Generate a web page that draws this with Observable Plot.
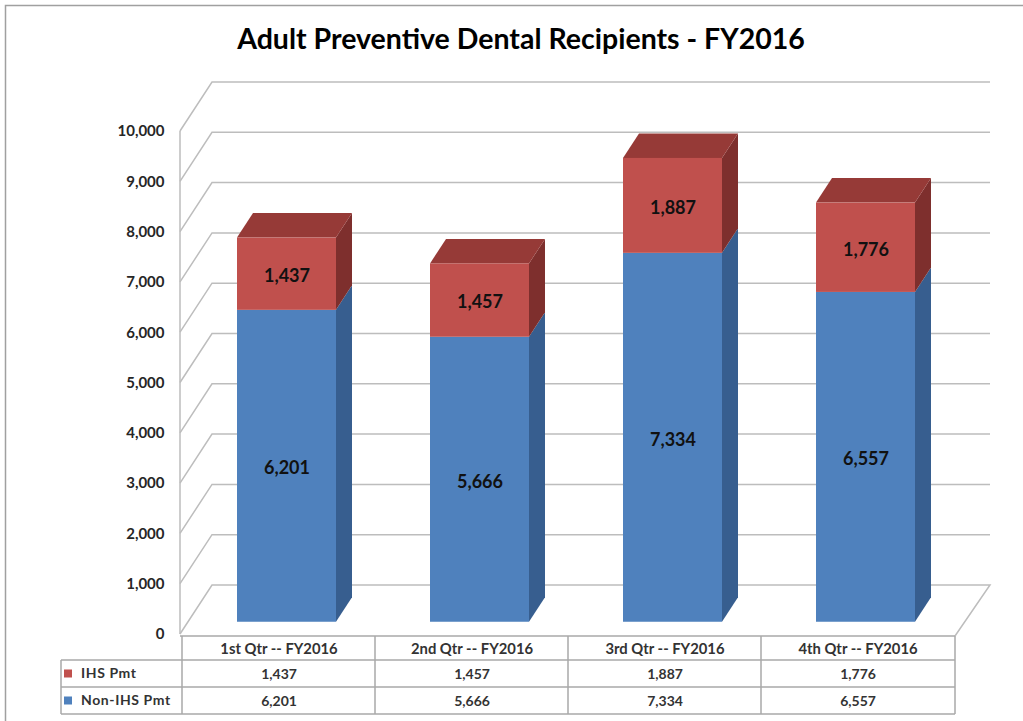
<!DOCTYPE html>
<html><head><meta charset="utf-8">
<script src="https://cdn.jsdelivr.net/npm/d3@7"></script>
<script src="https://cdn.jsdelivr.net/npm/@observablehq/plot@0.6"></script>
<style>body{margin:0;background:#fff} svg{display:block}</style>
</head><body><div id="chart"></div>
<script>
const title = "Adult Preventive Dental Recipients - FY2016";
const quarters = ["1st Qtr -- FY2016", "2nd Qtr -- FY2016", "3rd Qtr -- FY2016", "4th Qtr -- FY2016"];
const ihsPmt = [1437, 1457, 1887, 1776];
const nonIhsPmt = [6201, 5666, 7334, 6557];
const seriesNames = ["Non-IHS Pmt", "IHS Pmt"];
const seriesColors = ["#4F81BD", "#C0504D"];
const yTicks = [0, 1000, 2000, 3000, 4000, 5000, 6000, 7000, 8000, 9000, 10000];
const tableRows = ["IHS Pmt", "Non-IHS Pmt"];

const rows = [
  ...quarters.map((q, i) => ({quarter: q, series: "Non-IHS Pmt", value: nonIhsPmt[i]})),
  ...quarters.map((q, i) => ({quarter: q, series: "IHS Pmt", value: ihsPmt[i]}))
];
const fmt = d3.format(",");

// 3D geometry (pixels)
const DX = 32, DY = -49;             // wall depth
const FX = DX * 0.25, FY = DY * 0.25; // bar front plane offset
const BX = DX * 0.5, BY = DY * 0.5;   // bar depth
const INSET = 47;
const grid = "#BDBDBD";
const tableLine = "#A8A8A8";

function walls(index, {x, y}, values, dims) {
  const g = d3.create("svg:g");
  g.append("rect").attr("x", 5.5).attr("y", 5.5).attr("width", 1200).attr("height", 900)
    .attr("fill", "none").attr("stroke", "#A0A0A0").attr("stroke-width", 1.5);
  const x0 = dims.marginLeft, x1 = dims.width - dims.marginRight;
  const backRight = x1 + DX + 3;
  g.append("line").attr("x1", x0).attr("x2", x0).attr("y1", y(10000)).attr("y2", y(0))
    .attr("stroke", grid).attr("stroke-width", 1.5);
  for (const t of yTicks) {
    const yy = y(t);
    g.append("path").attr("fill", "none").attr("stroke", grid).attr("stroke-width", 1.5)
      .attr("d", `M${x0},${yy}L${x0 + DX},${yy + DY}L${backRight},${yy + DY}` + (t === 0 ? `L${x1},${yy + 2}` : ""));
  }
  return g.node();
}

function faces(index, {x, y}) {
  const g = d3.create("svg:g");
  const bw = x.bandwidth();
  quarters.forEach((q, i) => {
    const xl = x(q) + INSET + FX, xr = x(q) + bw - INSET + FX;
    const segs = [[0, nonIhsPmt[i], "#375E8F"], [nonIhsPmt[i], nonIhsPmt[i] + ihsPmt[i], "#7E2F2D"]];
    for (const [a, b, c] of segs) {
      const ya = y(a) + FY, yb = y(b) + FY;
      g.append("path").attr("fill", c)
        .attr("d", `M${xr},${yb}L${xr + BX},${yb + BY}L${xr + BX},${ya + BY}L${xr},${ya}Z`);
    }
    const yt = y(nonIhsPmt[i] + ihsPmt[i]) + FY;
    g.append("path").attr("fill", "#963A37")
      .attr("d", `M${xl},${yt}L${xl + BX},${yt + BY}L${xr + BX},${yt + BY}L${xr},${yt}Z`);
  });
  return g.node();
}

function table(index, {x, y, color}, values, dims) {
  const g = d3.create("svg:g");
  const x0 = dims.marginLeft, x1 = dims.width - dims.marginRight;
  const top = y(0) + 2, r1 = top + 24, r2 = r1 + 27, r3 = r2 + 27, left = 61;
  const line = (a, b, c, d) => g.append("line").attr("x1", a).attr("y1", b).attr("x2", c).attr("y2", d)
    .attr("stroke", tableLine).attr("stroke-width", 1.5);
  line(x0, top, x1, top);
  for (const r of [r1, r2, r3]) line(left, r, x1, r);
  line(left, r1, left, r3);
  for (const q of quarters) line(x(q), top, x(q), r3);
  line(x1, top, x1, r3);
  tableRows.forEach((name, k) => {
    const cy = (k === 0 ? (r1 + r2) / 2 : (r2 + r3) / 2);
    g.append("rect").attr("x", 64).attr("y", cy - 4).attr("width", 8).attr("height", 8).attr("fill", color(name));
    g.append("text").attr("x", 81).attr("y", cy).attr("dy", "0.35em").attr("text-anchor", "start")
      .attr("font-size", 14).attr("font-weight", "bold").attr("letter-spacing", 0.6).attr("fill", "#333").text(name);
  });
  return g.node();
}

const tableText = {frameAnchor: "bottom", lineAnchor: "middle", fontSize: 14, fontWeight: "bold", fill: "#333"};

const chart = Plot.plot({
  width: 1023,
  height: 721,
  marginLeft: 180,
  marginRight: 68,
  marginTop: 131,
  marginBottom: 87,
  x: {domain: quarters, padding: 0, axis: null},
  y: {domain: [0, 10000], axis: null},
  color: {domain: seriesNames, range: seriesColors},
  style: {fontFamily: "Lato, 'Open Sans', sans-serif", background: "#fff", overflow: "visible"},
  marks: [
    walls,
    Plot.axisY({ticks: yTicks, tickFormat: fmt, label: null, tickSize: 0, tickPadding: 16, fontSize: 15, fontWeight: "bold", fill: "#262626"}),
    faces,
    Plot.barY(rows, {x: "quarter", y: "value", fill: "series", insetLeft: INSET, insetRight: INSET, dx: FX, dy: FY}),
    Plot.text(rows, Plot.stackY({x: "quarter", y: "value", z: "series", text: d => fmt(d.value), dx: FX, dy: FY + 2, fontSize: 18, fontWeight: "bold", fill: "#111"})),
    table,
    Plot.text(quarters, {...tableText, x: d => d, text: d => d, dy: 15, fontSize: 14.8}),
    Plot.text(quarters, {...tableText, x: d => d, text: (d, i) => fmt(ihsPmt[i]), dy: 40}),
    Plot.text(quarters, {...tableText, x: d => d, text: (d, i) => fmt(nonIhsPmt[i]), dy: 67}),
    Plot.text([title], {text: d => d, frameAnchor: "top", lineAnchor: "middle", dx: -47, dy: -92, fontSize: 28.5, fontWeight: "bold", fill: "#000"})
  ]
});
document.getElementById("chart").appendChild(chart);
</script>
</body></html>
